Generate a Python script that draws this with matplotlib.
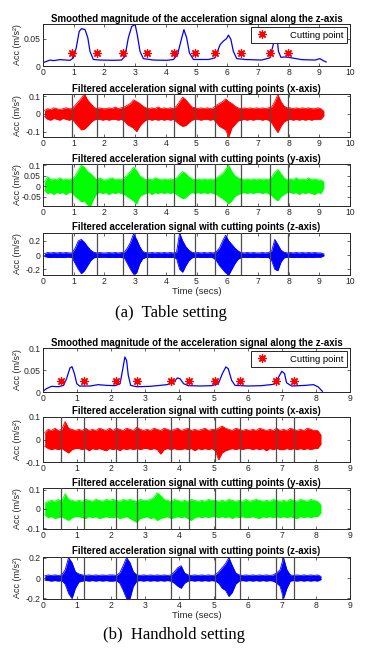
import numpy as np
import matplotlib
matplotlib.use('Agg')
import matplotlib.pyplot as plt

# ---------------- data: (a) Table setting ----------------
a_smooth_t = [0.03, 0.23, 0.34, 0.55, 0.88, 0.99, 1.08, 1.18, 1.26, 1.37, 1.46, 1.53, 1.64, 1.86,
              2.29, 2.56, 2.67, 2.78, 2.89, 3.0, 3.07, 3.16, 3.27, 3.6, 4.03, 4.25, 4.38, 4.52,
              4.59, 4.68, 4.77, 4.9, 5.39, 5.6, 5.77, 5.87, 5.98, 6.04, 6.12, 6.2, 6.31, 6.58,
              7.12, 7.39, 7.5, 7.6, 7.67, 7.75, 7.88, 8.1, 8.43, 8.86, 9.02, 9.13, 9.22]
a_smooth_v = [0.0068, 0.011, 0.0099, 0.0117, 0.0105, 0.015, 0.033, 0.064, 0.069, 0.067, 0.052,
              0.027, 0.012, 0.011, 0.0105, 0.011, 0.018, 0.052, 0.073, 0.0765, 0.058, 0.027,
              0.0136, 0.011, 0.0105, 0.012, 0.021, 0.052, 0.067, 0.052, 0.024, 0.012, 0.012,
              0.015, 0.0395, 0.0457, 0.0506, 0.057, 0.049, 0.027, 0.0136, 0.012, 0.011, 0.015,
              0.0395, 0.064, 0.027, 0.016, 0.0167, 0.015, 0.0117, 0.011, 0.0136, 0.0099, 0.0074]
a_cuts = [0.96, 1.76, 2.59, 3.40, 4.28, 4.96, 5.61, 6.46, 7.40, 7.97]
a_star_level = 0.0235

# envelopes of the filtered signals, sampled every 0.1 s starting at 0.05 s
a_x_up = [0.02, 0.03, 0.025, 0.035, 0.03, 0.025, 0.03, 0.035, 0.03, 0.03,
          0.05, 0.07, 0.09, 0.115, 0.08, 0.06, 0.04, 0.03, 0.035, 0.03,
          0.03, 0.035, 0.03, 0.04, 0.03, 0.035, 0.04, 0.05, 0.06, 0.08,
          0.07, 0.06, 0.045, 0.035, 0.03, 0.035, 0.03, 0.04, 0.03, 0.035,
          0.03, 0.035, 0.03, 0.045, 0.07, 0.095, 0.08, 0.06, 0.04, 0.035,
          0.03, 0.035, 0.03, 0.035, 0.03, 0.035, 0.05, 0.06, 0.07, 0.085,
          0.07, 0.06, 0.045, 0.035, 0.03, 0.035, 0.03, 0.035, 0.03, 0.035,
          0.03, 0.035, 0.03, 0.035, 0.04, 0.07, 0.11, 0.07, 0.045, 0.035,
          0.035, 0.03, 0.035, 0.03, 0.035, 0.03, 0.035, 0.03, 0.03, 0.035,
          0.03, 0.015]
a_x_lo = [-0.015, -0.03, -0.035, -0.025, -0.03, -0.035, -0.025, -0.03, -0.035, -0.03,
          -0.05, -0.07, -0.09, -0.085, -0.07, -0.05, -0.035, -0.03, -0.03, -0.035,
          -0.03, -0.035, -0.03, -0.03, -0.035, -0.03, -0.04, -0.06, -0.07, -0.08,
          -0.1, -0.07, -0.05, -0.035, -0.03, -0.035, -0.03, -0.035, -0.03, -0.035,
          -0.03, -0.035, -0.03, -0.045, -0.06, -0.07, -0.065, -0.05, -0.035, -0.03,
          -0.03, -0.035, -0.03, -0.03, -0.035, -0.03, -0.05, -0.07, -0.08, -0.09,
          -0.13, -0.08, -0.06, -0.04, -0.035, -0.03, -0.035, -0.03, -0.035, -0.03,
          -0.03, -0.035, -0.03, -0.035, -0.05, -0.08, -0.105, -0.07, -0.045, -0.035,
          -0.03, -0.035, -0.03, -0.035, -0.03, -0.035, -0.03, -0.035, -0.03, -0.03,
          -0.03, -0.01]
a_y_up = [0.02, 0.045, 0.03, 0.035, 0.03, 0.04, 0.03, 0.035, 0.03, 0.035,
          0.05, 0.075, 0.1, 0.09, 0.07, 0.06, 0.045, 0.03, 0.04, 0.03,
          0.03, 0.035, 0.04, 0.03, 0.035, 0.03, 0.04, 0.055, 0.07, 0.09,
          0.075, 0.05, 0.04, 0.03, 0.035, 0.03, 0.04, 0.035, 0.03, 0.035,
          0.03, 0.035, 0.03, 0.04, 0.055, 0.07, 0.06, 0.045, 0.035, 0.03,
          0.035, 0.03, 0.035, 0.03, 0.035, 0.03, 0.04, 0.05, 0.06, 0.08,
          0.1, 0.07, 0.05, 0.04, 0.035, 0.03, 0.035, 0.03, 0.035, 0.03,
          0.035, 0.03, 0.035, 0.03, 0.045, 0.065, 0.08, 0.06, 0.04, 0.03,
          0.035, 0.03, 0.04, 0.03, 0.035, 0.03, 0.04, 0.03, 0.035, 0.03,
          0.03, 0.02]
a_y_lo = [-0.02, -0.035, -0.03, -0.04, -0.03, -0.035, -0.03, -0.04, -0.03, -0.03,
          -0.05, -0.06, -0.075, -0.07, -0.09, -0.095, -0.06, -0.035, -0.03, -0.035,
          -0.03, -0.04, -0.03, -0.035, -0.03, -0.035, -0.04, -0.05, -0.06, -0.07,
          -0.085, -0.05, -0.04, -0.035, -0.03, -0.04, -0.03, -0.035, -0.03, -0.035,
          -0.03, -0.035, -0.03, -0.04, -0.05, -0.06, -0.055, -0.04, -0.03, -0.035,
          -0.03, -0.035, -0.03, -0.035, -0.03, -0.035, -0.04, -0.05, -0.06, -0.07,
          -0.085, -0.07, -0.05, -0.04, -0.035, -0.03, -0.035, -0.03, -0.035, -0.03,
          -0.03, -0.035, -0.03, -0.035, -0.045, -0.06, -0.07, -0.05, -0.04, -0.03,
          -0.03, -0.035, -0.03, -0.04, -0.03, -0.035, -0.03, -0.035, -0.04, -0.03,
          -0.035, -0.01]
a_z_up = [0.02, 0.035, 0.03, 0.035, 0.03, 0.035, 0.03, 0.035, 0.03, 0.03,
          0.1, 0.2, 0.22, 0.18, 0.12, 0.07, 0.04, 0.03, 0.035, 0.03,
          0.03, 0.035, 0.03, 0.035, 0.03, 0.035, 0.04, 0.1, 0.18, 0.3,
          0.22, 0.12, 0.05, 0.035, 0.03, 0.035, 0.03, 0.035, 0.03, 0.035,
          0.03, 0.035, 0.03, 0.04, 0.31, 0.2, 0.12, 0.07, 0.04, 0.03,
          0.035, 0.03, 0.035, 0.03, 0.035, 0.03, 0.05, 0.1, 0.2, 0.28,
          0.2, 0.15, 0.1, 0.06, 0.035, 0.03, 0.035, 0.03, 0.035, 0.03,
          0.03, 0.035, 0.03, 0.035, 0.06, 0.22, 0.15, 0.07, 0.04, 0.03,
          0.035, 0.03, 0.035, 0.03, 0.035, 0.03, 0.035, 0.03, 0.035, 0.03,
          0.03, 0.015]
a_z_lo = [-0.02, -0.03, -0.035, -0.03, -0.035, -0.03, -0.035, -0.03, -0.03, -0.035,
          -0.12, -0.2, -0.26, -0.22, -0.15, -0.08, -0.04, -0.03, -0.035, -0.03,
          -0.03, -0.035, -0.03, -0.035, -0.03, -0.035, -0.04, -0.12, -0.2, -0.27,
          -0.25, -0.12, -0.05, -0.035, -0.03, -0.035, -0.03, -0.035, -0.03, -0.035,
          -0.03, -0.035, -0.03, -0.05, -0.2, -0.24, -0.15, -0.08, -0.04, -0.03,
          -0.03, -0.035, -0.03, -0.035, -0.03, -0.04, -0.08, -0.15, -0.2, -0.25,
          -0.28, -0.2, -0.12, -0.06, -0.035, -0.03, -0.035, -0.03, -0.035, -0.03,
          -0.03, -0.035, -0.03, -0.035, -0.08, -0.2, -0.22, -0.1, -0.04, -0.03,
          -0.03, -0.035, -0.03, -0.035, -0.03, -0.035, -0.03, -0.035, -0.03, -0.03,
          -0.03, -0.01]

# ---------------- data: (b) Handhold setting ----------------
b_smooth_t = [0.0, 0.1, 0.25, 0.45, 0.6, 0.69, 0.79, 0.85, 0.92, 0.99, 1.07, 1.38, 1.62, 1.87,
              2.11, 2.26, 2.34, 2.4, 2.45, 2.5, 2.57, 2.75, 3.14, 3.43, 3.63, 3.82, 3.94, 4.02,
              4.12, 4.26, 4.61, 4.95, 5.14, 5.26, 5.36, 5.43, 5.53, 5.63, 6.02, 6.41, 6.75,
              6.88, 7.0, 7.08, 7.14, 7.29, 7.68, 7.93, 8.07, 8.19]
b_smooth_v = [0.0015, 0.0076, 0.0129, 0.012, 0.015, 0.03, 0.0545, 0.0576, 0.042, 0.019, 0.0136,
              0.0136, 0.0167, 0.015, 0.0144, 0.019, 0.053, 0.0795, 0.072, 0.038, 0.015, 0.012,
              0.0129, 0.015, 0.0167, 0.021, 0.032, 0.030, 0.019, 0.0144, 0.0136, 0.0144, 0.019,
              0.042, 0.057, 0.053, 0.0265, 0.015, 0.0136, 0.0144, 0.0174, 0.03, 0.047, 0.042,
              0.021, 0.0136, 0.015, 0.0167, 0.0114, 0.0015]
b_cuts = [0.53, 1.21, 2.15, 2.77, 3.74, 4.28, 5.04, 5.78, 6.83, 7.36]
b_star_level = 0.025

b_x_up = [0.03, 0.045, 0.04, 0.05, 0.04, 0.045, 0.08, 0.05, 0.045, 0.04,
          0.045, 0.04, 0.05, 0.04, 0.045, 0.04, 0.05, 0.045, 0.04, 0.05,
          0.04, 0.05, 0.045, 0.04, 0.05, 0.045, 0.04, 0.055, 0.045, 0.04,
          0.045, 0.04, 0.05, 0.045, 0.04, 0.05, 0.045, 0.04, 0.045, 0.05,
          0.04, 0.045, 0.05, 0.04, 0.045, 0.04, 0.045, 0.05, 0.04, 0.045,
          0.045, 0.05, 0.06, 0.05, 0.045, 0.04, 0.05, 0.045, 0.04, 0.045,
          0.04, 0.045, 0.04, 0.05, 0.045, 0.04, 0.045, 0.04, 0.05, 0.04,
          0.045, 0.04, 0.05, 0.045, 0.04, 0.045, 0.04, 0.05, 0.045, 0.04,
          0.04, 0.02]
b_x_lo = [-0.03, -0.04, -0.045, -0.04, -0.045, -0.04, -0.05, -0.06, -0.045, -0.04,
          -0.04, -0.045, -0.04, -0.05, -0.04, -0.045, -0.04, -0.045, -0.05, -0.04,
          -0.045, -0.04, -0.05, -0.04, -0.045, -0.04, -0.045, -0.04, -0.045, -0.04,
          -0.04, -0.045, -0.04, -0.045, -0.065, -0.045, -0.04, -0.045, -0.04, -0.045,
          -0.045, -0.04, -0.045, -0.04, -0.05, -0.04, -0.045, -0.04, -0.045, -0.04,
          -0.05, -0.09, -0.06, -0.05, -0.045, -0.04, -0.045, -0.04, -0.045, -0.04,
          -0.04, -0.045, -0.04, -0.045, -0.04, -0.05, -0.04, -0.045, -0.04, -0.045,
          -0.045, -0.04, -0.045, -0.04, -0.045, -0.04, -0.045, -0.04, -0.045, -0.04,
          -0.04, -0.02]
b_y_up = [0.03, 0.04, 0.045, 0.04, 0.05, 0.04, 0.08, 0.05, 0.045, 0.04,
          0.045, 0.04, 0.05, 0.045, 0.04, 0.05, 0.045, 0.04, 0.05, 0.045,
          0.05, 0.045, 0.04, 0.05, 0.045, 0.05, 0.045, 0.04, 0.05, 0.045,
          0.045, 0.05, 0.06, 0.085, 0.07, 0.05, 0.045, 0.04, 0.05, 0.045,
          0.04, 0.045, 0.04, 0.05, 0.045, 0.04, 0.045, 0.04, 0.05, 0.045,
          0.045, 0.04, 0.045, 0.04, 0.05, 0.045, 0.04, 0.045, 0.04, 0.05,
          0.04, 0.045, 0.05, 0.045, 0.04, 0.045, 0.04, 0.05, 0.045, 0.04,
          0.045, 0.04, 0.05, 0.045, 0.04, 0.05, 0.045, 0.04, 0.05, 0.045,
          0.04, 0.02]
b_y_lo = [-0.03, -0.045, -0.04, -0.05, -0.045, -0.04, -0.05, -0.06, -0.045, -0.04,
          -0.04, -0.045, -0.05, -0.04, -0.045, -0.04, -0.05, -0.045, -0.04, -0.045,
          -0.045, -0.04, -0.05, -0.045, -0.04, -0.05, -0.06, -0.07, -0.05, -0.045,
          -0.04, -0.05, -0.045, -0.06, -0.05, -0.045, -0.04, -0.05, -0.045, -0.04,
          -0.045, -0.04, -0.05, -0.06, -0.045, -0.04, -0.045, -0.04, -0.045, -0.04,
          -0.04, -0.045, -0.04, -0.045, -0.04, -0.05, -0.04, -0.045, -0.04, -0.045,
          -0.045, -0.04, -0.045, -0.05, -0.04, -0.045, -0.04, -0.045, -0.04, -0.045,
          -0.04, -0.045, -0.04, -0.045, -0.05, -0.04, -0.045, -0.04, -0.045, -0.04,
          -0.04, -0.02]
b_z_up = [0.02, 0.03, 0.025, 0.03, 0.025, 0.03, 0.08, 0.2, 0.15, 0.06,
          0.04, 0.03, 0.025, 0.03, 0.025, 0.03, 0.025, 0.03, 0.025, 0.03,
          0.03, 0.025, 0.05, 0.12, 0.2, 0.15, 0.06, 0.03, 0.025, 0.03,
          0.025, 0.03, 0.025, 0.03, 0.025, 0.03, 0.025, 0.03, 0.06, 0.1,
          0.12, 0.05, 0.03, 0.025, 0.03, 0.025, 0.03, 0.025, 0.03, 0.025,
          0.03, 0.06, 0.1, 0.14, 0.2, 0.12, 0.05, 0.03, 0.025, 0.03,
          0.025, 0.03, 0.025, 0.03, 0.025, 0.03, 0.025, 0.03, 0.05, 0.08,
          0.2, 0.08, 0.03, 0.025, 0.03, 0.025, 0.03, 0.025, 0.03, 0.025,
          0.03, 0.015]
b_z_lo = [-0.02, -0.025, -0.03, -0.025, -0.03, -0.025, -0.06, -0.15, -0.2, -0.1,
          -0.04, -0.03, -0.025, -0.03, -0.025, -0.03, -0.025, -0.03, -0.025, -0.03,
          -0.03, -0.025, -0.05, -0.12, -0.2, -0.2, -0.08, -0.03, -0.025, -0.03,
          -0.025, -0.03, -0.025, -0.03, -0.025, -0.03, -0.025, -0.03, -0.05, -0.08,
          -0.1, -0.05, -0.03, -0.025, -0.03, -0.025, -0.03, -0.025, -0.03, -0.025,
          -0.03, -0.05, -0.1, -0.12, -0.18, -0.14, -0.06, -0.03, -0.025, -0.03,
          -0.025, -0.03, -0.025, -0.03, -0.025, -0.03, -0.025, -0.03, -0.05, -0.08,
          -0.2, -0.1, -0.03, -0.025, -0.03, -0.025, -0.03, -0.025, -0.03, -0.025,
          -0.03, -0.015]

titles = ['Smoothed magnitude of the acceleration signal along the z-axis',
          'Filtered acceleration signal with cutting points (x-axis)',
          'Filtered acceleration signal with cutting points (y-axis)',
          'Filtered acceleration signal with cutting points (z-axis)']
ylabel = 'Acc (m/s²)'
xlabel = 'Time (secs)'
captions = ['(a)  Table setting', '(b)  Handhold setting']

# ---------------- drawing ----------------
plt.rcParams['font.family'] = ['Liberation Sans', 'DejaVu Sans']
plt.rcParams['axes.unicode_minus'] = False

W, H = 368, 648
fig = plt.figure(figsize=(W / 100, H / 100), dpi=100)
LEFT, RIGHT = 43, 350
AX_COL = '0.15'
TICK_FS = 6.2
SAMPLE_DT = 0.1
SAMPLE_T0 = 0.05


def add_ax(top, bottom):
    return fig.add_axes([LEFT / W, 1 - bottom / H, (RIGHT - LEFT) / W, (bottom - top) / H])


def style(ax, xmax, ylim, yticks, title):
    ax.set_xlim(0, xmax)
    ax.set_ylim(*ylim)
    ax.set_xticks(range(0, xmax + 1))
    ax.set_xticklabels([str(v) for v in range(0, xmax + 1)])
    ax.set_yticks(yticks)
    ax.set_yticklabels(['{:g}'.format(v) for v in yticks])
    ax.tick_params(direction='in', length=2, width=0.5, labelsize=TICK_FS, pad=1.5,
                   top=True, right=True, colors=AX_COL, labelcolor='0.15')
    for s in ax.spines.values():
        s.set_color(AX_COL)
        s.set_linewidth(0.7)
    ax.set_title(title, fontsize=6.9, fontweight='bold', pad=1.8, color='black')
    ax.set_ylabel(ylabel, fontsize=6.5, color='0.15')
    ax.yaxis.set_label_coords(-0.068, 0.5)


def signal_panel(ax, up, lo, color, cuts):
    t = SAMPLE_T0 + SAMPLE_DT * np.arange(len(up))
    ax.fill_between(t, lo, up, color=color, lw=0)
    ax.plot(t, up, color=color, lw=0.6)
    ax.plot(t, lo, color=color, lw=0.6)
    for c in cuts:
        ax.axvline(c, color='0.3', lw=0.9, zorder=5)


def smooth_panel(ax, tt, vv, cuts, star):
    ax.plot(tt, vv, color='blue', lw=0.9)
    ax.plot(cuts, [star] * len(cuts), linestyle='none', marker=(8, 2, 0), color='red',
            ms=6, mew=0.9, label='Cutting point')
    leg = ax.legend(loc='upper right', fontsize=6.8, frameon=True, fancybox=False,
                    handletextpad=2.2, handlelength=1.5, borderpad=0.4,
                    borderaxespad=0.3, framealpha=1)
    leg.get_frame().set_edgecolor('0.15')
    leg.get_frame().set_linewidth(0.7)


# (a)
ax = add_ax(24, 66)
smooth_panel(ax, a_smooth_t, a_smooth_v, a_cuts, a_star_level)
style(ax, 10, (0, 0.0775), [0, 0.05], titles[0])

ax = add_ax(94, 137)
signal_panel(ax, a_x_up, a_x_lo, (1, 0, 0), a_cuts)
style(ax, 10, (-0.13, 0.113), [-0.1, 0, 0.1], titles[1])

ax = add_ax(164, 206)
signal_panel(ax, a_y_up, a_y_lo, (0, 1, 0), a_cuts)
style(ax, 10, (-0.095, 0.106), [-0.05, 0, 0.05, 0.1], titles[2])

ax = add_ax(233, 275)
signal_panel(ax, a_z_up, a_z_lo, (0, 0, 1), a_cuts)
style(ax, 10, (-0.28, 0.31), [-0.2, 0, 0.2], titles[3])
ax.set_xlabel(xlabel, fontsize=6.8, color='0.15', labelpad=1)

fig.text(171 / W, 1 - 313 / H, captions[0], ha='center', va='center',
         family='Liberation Serif', fontsize=12)

# (b)
ax = add_ax(348, 392)
smooth_panel(ax, b_smooth_t, b_smooth_v, b_cuts, b_star_level)
style(ax, 9, (0, 0.1), [0, 0.05, 0.1], titles[0])

ax = add_ax(417, 462)
signal_panel(ax, b_x_up, b_x_lo, (1, 0, 0), b_cuts)
style(ax, 9, (-0.1, 0.1), [-0.1, 0, 0.1], titles[1])

ax = add_ax(488, 529)
signal_panel(ax, b_y_up, b_y_lo, (0, 1, 0), b_cuts)
style(ax, 9, (-0.105, 0.11), [-0.1, 0, 0.1], titles[2])

ax = add_ax(557, 599)
signal_panel(ax, b_z_up, b_z_lo, (0, 0, 1), b_cuts)
style(ax, 9, (-0.205, 0.205), [-0.2, 0, 0.2], titles[3])
ax.set_xlabel(xlabel, fontsize=6.8, color='0.15', labelpad=1)

fig.text(174 / W, 1 - 635 / H, captions[1], ha='center', va='center',
         family='Liberation Serif', fontsize=12)

fig.savefig('out.png', dpi=100)
